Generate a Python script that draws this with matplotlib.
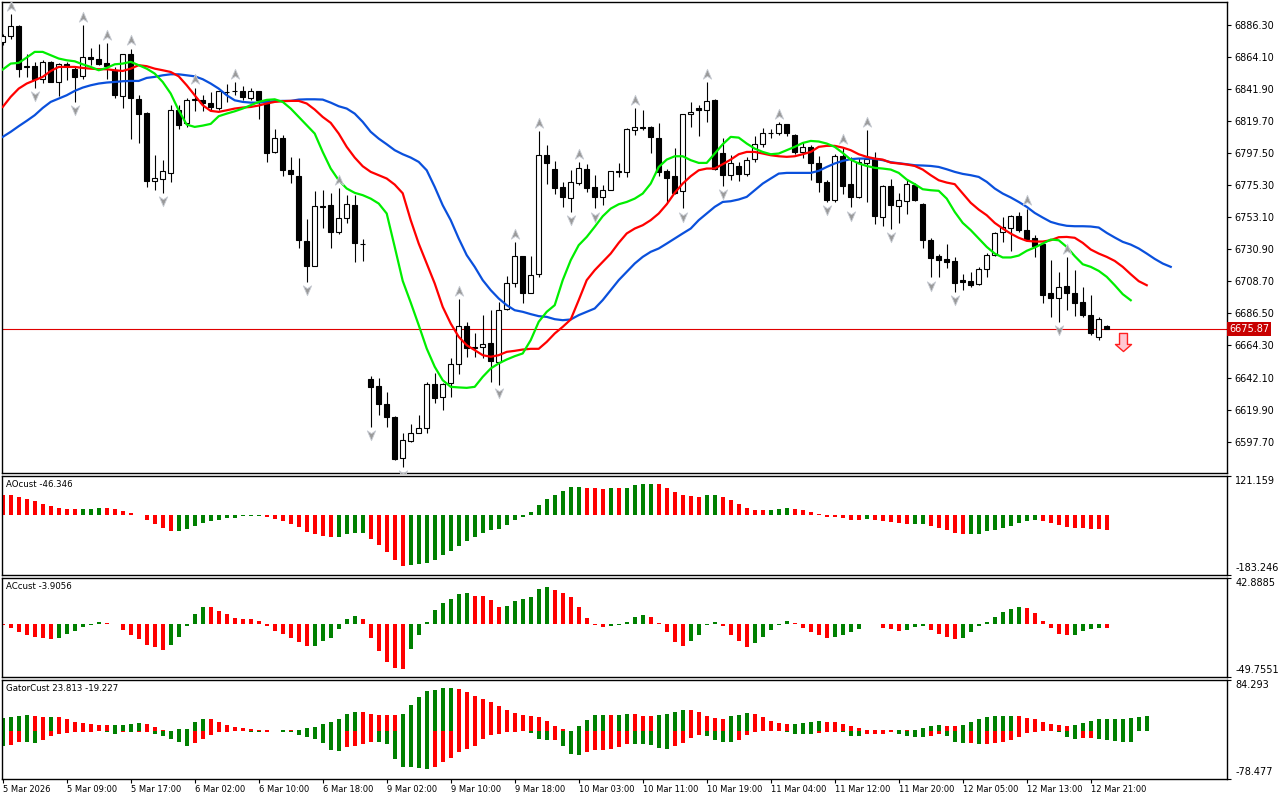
import matplotlib
matplotlib.use('Agg')
import matplotlib.pyplot as plt
import matplotlib.transforms as mtransforms
from matplotlib.path import Path
import numpy as np

plt.rcParams['font.family'] = 'DejaVu Sans'

# ---------------------------------------------------------------- price data
# hourly candles, bar 0 = 5 Mar 2026 01:00 ... bar 138 = last (forming) bar
opens = [6874.3, 6878.2, 6885.1, 6856.6, 6857.9, 6848.7, 6860.7, 6846.9, 6859.3, 6855.6,
         6851.0, 6864.2, 6862.8, 6860.0, 6855.2, 6837.2, 6865.6, 6835.1, 6824.8, 6778.4,
         6779.8, 6783.9, 6827.5, 6818.5, 6833.8, 6834.4, 6831.7, 6828.9, 6839.7, 6840.4,
         6840.2, 6835.8, 6840.2, 6833.9, 6798.2, 6807.5, 6786.0, 6781.4, 6736.5, 6719.4,
         6760.7, 6761.4, 6742.5, 6752.2, 6761.4, 6734.6, 6641.1, 6636.2, 6623.6, 6615.0,
         6586.2, 6598.4, 6604.0, 6607.0, 6637.4, 6628.4, 6638.1, 6651.2, 6677.9, 6662.9,
         6663.0, 6665.8, 6652.6, 6689.2, 6707.2, 6726.1, 6700.7, 6713.6, 6796.4, 6786.7,
         6773.6, 6766.0, 6776.8, 6786.7, 6773.6, 6767.1, 6772.2, 6785.3, 6784.4, 6813.7,
         6815.1, 6815.3, 6807.9, 6785.3, 6781.4, 6771.2, 6824.1, 6828.3, 6827.5, 6833.9,
         6797.8, 6782.1, 6788.3, 6782.6, 6793.0, 6804.0, 6811.4, 6811.4, 6817.4, 6810.2,
         6798.2, 6801.7, 6790.2, 6777.5, 6764.8, 6795.2, 6775.9, 6767.1, 6790.6, 6793.0,
         6753.3, 6774.5, 6761.1, 6764.3, 6775.2, 6762.1, 6737.6, 6726.1, 6724.2, 6722.6,
         6709.3, 6708.8, 6706.5, 6716.9, 6726.8, 6742.5, 6745.9, 6753.7, 6744.1, 6739.0,
         6734.4, 6700.3, 6696.9, 6705.4, 6700.3, 6694.1, 6685.3, 6670.3, 6678.1]
highs = [6880.0, 6893.4, 6885.8, 6865.6, 6860.7, 6862.1, 6861.4, 6859.5, 6860.7, 6857.9,
         6885.8, 6870.4, 6873.2, 6873.5, 6856.6, 6865.6, 6869.7, 6837.9, 6825.5, 6796.4,
         6792.5, 6831.0, 6831.0, 6835.8, 6842.7, 6837.9, 6839.7, 6840.2, 6845.5, 6846.6,
         6843.6, 6842.7, 6840.5, 6834.2, 6814.4, 6809.8, 6794.8, 6793.7, 6751.7, 6771.0,
         6771.7, 6770.1, 6772.9, 6768.3, 6768.3, 6737.9, 6643.1, 6641.5, 6632.3, 6615.5,
         6603.9, 6610.0, 6616.2, 6638.8, 6645.4, 6638.1, 6655.4, 6696.4, 6680.3, 6672.7,
         6685.3, 6688.8, 6694.5, 6712.3, 6735.6, 6726.5, 6726.1, 6812.5, 6803.3, 6792.0,
         6777.5, 6786.0, 6790.9, 6789.7, 6782.1, 6775.2, 6785.1, 6790.2, 6814.6, 6828.6,
         6827.0, 6816.0, 6818.5, 6786.7, 6801.0, 6824.2, 6832.4, 6831.0, 6846.6, 6834.6,
         6807.9, 6796.0, 6791.3, 6794.8, 6809.1, 6814.8, 6814.4, 6818.7, 6817.6, 6810.9,
         6805.1, 6802.8, 6795.2, 6778.6, 6796.6, 6801.7, 6794.8, 6793.7, 6813.2, 6798.2,
         6775.2, 6779.8, 6770.1, 6779.8, 6776.4, 6763.0, 6739.0, 6727.5, 6734.2, 6725.2,
         6714.1, 6715.3, 6718.7, 6728.4, 6742.5, 6752.9, 6754.4, 6756.5, 6759.0, 6740.6,
         6734.6, 6723.3, 6715.3, 6725.6, 6716.7, 6704.9, 6699.1, 6683.7, 6678.8]
lows = [6872.0, 6876.0, 6850.1, 6850.1, 6842.7, 6845.9, 6846.5, 6837.2, 6847.8, 6832.8,
        6848.7, 6858.6, 6858.6, 6848.7, 6835.3, 6828.9, 6807.2, 6804.4, 6774.0, 6772.2,
        6770.1, 6777.5, 6814.1, 6815.1, 6826.8, 6826.8, 6827.0, 6827.0, 6832.8, 6837.4,
        6833.9, 6833.9, 6821.3, 6791.3, 6797.5, 6781.4, 6776.4, 6731.4, 6708.3, 6719.0,
        6745.3, 6731.9, 6741.1, 6749.1, 6722.2, 6722.9, 6608.1, 6616.2, 6608.1, 6585.0,
        6580.4, 6597.7, 6604.0, 6603.5, 6624.3, 6619.6, 6628.8, 6644.3, 6656.5, 6656.1,
        6655.4, 6639.2, 6636.9, 6688.8, 6704.5, 6693.8, 6700.3, 6711.8, 6775.7, 6768.8,
        6760.2, 6756.7, 6775.2, 6770.6, 6759.1, 6761.8, 6771.7, 6781.0, 6781.0, 6809.8,
        6813.7, 6797.5, 6781.6, 6763.6, 6768.8, 6759.1, 6815.1, 6809.1, 6818.9, 6785.6,
        6774.7, 6778.7, 6778.2, 6781.4, 6791.3, 6801.7, 6807.5, 6809.8, 6809.1, 6797.1,
        6793.7, 6778.6, 6770.6, 6763.6, 6763.6, 6769.0, 6759.8, 6766.4, 6763.6, 6748.2,
        6746.9, 6745.2, 6749.1, 6755.6, 6764.1, 6731.4, 6711.4, 6711.4, 6717.6, 6701.4,
        6702.6, 6704.9, 6706.0, 6711.8, 6726.1, 6736.0, 6729.8, 6742.6, 6737.2, 6725.2,
        6693.4, 6684.1, 6680.7, 6688.8, 6684.6, 6684.1, 6671.5, 6668.0, 6675.5]
closes = [6878.2, 6885.1, 6855.6, 6857.9, 6848.7, 6860.7, 6846.9, 6859.3, 6857.9, 6850.1,
          6864.2, 6862.5, 6859.1, 6857.9, 6837.6, 6865.6, 6835.8, 6824.5, 6778.4, 6780.5,
          6784.7, 6827.5, 6816.5, 6833.8, 6835.1, 6831.7, 6829.3, 6840.2, 6839.5, 6840.2,
          6836.2, 6840.2, 6833.9, 6797.5, 6807.5, 6785.6, 6782.6, 6737.6, 6719.4, 6760.7,
          6760.4, 6742.5, 6752.2, 6762.1, 6734.9, 6734.5, 6635.7, 6623.6, 6614.6, 6585.5,
          6598.9, 6604.0, 6607.0, 6637.4, 6627.7, 6637.4, 6651.2, 6677.9, 6662.3, 6663.0,
          6665.1, 6653.5, 6688.6, 6707.2, 6726.1, 6700.7, 6713.4, 6796.4, 6790.2, 6772.9,
          6766.7, 6777.5, 6787.4, 6772.9, 6767.1, 6772.2, 6784.7, 6784.4, 6814.4, 6815.3,
          6815.0, 6808.6, 6784.4, 6780.2, 6770.1, 6824.1, 6825.9, 6827.0, 6833.3, 6786.7,
          6782.1, 6790.6, 6782.6, 6792.5, 6804.0, 6811.6, 6811.3, 6817.4, 6811.0, 6798.2,
          6801.3, 6790.2, 6777.5, 6764.8, 6795.7, 6774.7, 6767.1, 6791.3, 6793.4, 6754.0,
          6774.7, 6761.6, 6764.6, 6775.9, 6764.8, 6737.6, 6724.9, 6723.5, 6722.2, 6707.6,
          6708.5, 6706.0, 6716.9, 6726.8, 6741.8, 6746.4, 6753.7, 6744.1, 6738.1, 6733.2,
          6699.3, 6696.9, 6704.5, 6700.3, 6693.8, 6685.3, 6672.7, 6682.4, 6675.87]

# alligator lines (already shifted forward: jaw +8, teeth +5, lips +3 bars)
jaw = [6808.6, 6812.1, 6816.0, 6819.7, 6823.6, 6828.6, 6832.8, 6835.1, 6837.4, 6840.4,
       6842.7, 6844.3, 6845.5, 6846.2, 6846.6, 6847.1, 6847.3, 6847.3, 6849.4, 6850.1,
       6851.2, 6851.9, 6851.9, 6851.2, 6850.5, 6848.5, 6845.5, 6842.0, 6837.4, 6833.9,
       6832.8, 6832.3, 6832.3, 6832.8, 6833.3, 6833.5, 6833.5, 6834.4, 6834.6, 6834.6,
       6834.4, 6832.3, 6829.8, 6828.2, 6824.7, 6819.0, 6812.1, 6807.4, 6803.5, 6799.4,
       6796.6, 6794.3, 6791.3, 6785.5, 6774.0, 6761.3, 6751.0, 6738.3, 6726.8, 6718.7,
       6709.5, 6702.6, 6696.8, 6692.2, 6688.7, 6687.6, 6686.0, 6684.6, 6684.1, 6682.5,
       6681.8, 6682.3, 6685.3, 6687.6, 6689.9, 6695.7, 6702.6, 6709.5, 6715.2, 6721.0,
       6725.6, 6729.1, 6731.4, 6734.8, 6738.3, 6741.8, 6745.2, 6751.0, 6755.6, 6760.2,
       6763.6, 6764.1, 6765.3, 6767.1, 6771.7, 6776.3, 6779.8, 6783.2, 6783.7, 6783.7,
       6783.7, 6783.7, 6785.1, 6787.8, 6790.2, 6792.0, 6793.2, 6793.6, 6793.6, 6793.4,
       6792.5, 6791.1, 6790.4, 6789.7, 6789.0, 6788.8, 6788.5, 6787.8, 6786.2, 6784.4,
       6783.0, 6782.1, 6780.9, 6777.5, 6772.9, 6769.4, 6766.7, 6763.6, 6760.2, 6756.0,
       6752.8, 6749.8, 6748.2, 6747.1, 6746.8, 6746.8, 6746.6, 6745.9, 6742.2, 6739.0,
       6736.0, 6734.1, 6731.4, 6727.9, 6724.2, 6721.0, 6718.7]
teeth = [6829.3, 6836.3, 6842.0, 6845.5, 6847.8, 6850.1, 6854.2, 6857.0, 6857.0, 6857.0,
         6856.3, 6855.8, 6855.4, 6855.4, 6854.7, 6854.2, 6855.8, 6858.2, 6857.5, 6855.8,
         6854.7, 6853.5, 6850.5, 6844.3, 6837.4, 6830.5, 6826.6, 6825.9, 6827.0, 6828.2,
         6828.9, 6829.3, 6830.3, 6831.7, 6832.8, 6833.3, 6833.5, 6833.5, 6831.7, 6827.5,
         6822.4, 6818.3, 6810.9, 6801.7, 6794.3, 6788.3, 6784.4, 6782.1, 6779.8, 6775.6,
         6769.6, 6751.0, 6734.8, 6721.0, 6707.2, 6691.0, 6679.5, 6670.3, 6664.5, 6661.1,
         6657.6, 6656.5, 6657.6, 6659.9, 6660.6, 6661.5, 6662.0, 6662.0, 6666.8, 6672.6,
         6677.2, 6682.3, 6695.7, 6709.5, 6716.4, 6722.2, 6727.9, 6735.3, 6741.8, 6745.2,
         6747.5, 6751.0, 6755.6, 6762.0, 6769.9, 6776.3, 6781.4, 6785.5, 6786.7, 6786.7,
         6789.7, 6792.9, 6796.6, 6798.2, 6798.2, 6797.1, 6795.9, 6795.2, 6794.8, 6795.2,
         6796.6, 6798.2, 6801.7, 6802.4, 6802.4, 6801.2, 6799.4, 6796.6, 6794.8, 6793.6,
         6792.9, 6790.8, 6790.2, 6789.5, 6788.5, 6786.0, 6782.1, 6778.6, 6777.0, 6775.9,
         6769.4, 6763.0, 6758.3, 6754.4, 6749.1, 6745.2, 6741.7, 6738.8, 6736.7, 6736.2,
         6736.2, 6737.1, 6739.2, 6739.4, 6738.8, 6735.3, 6730.7, 6727.9, 6725.6, 6722.8,
         6718.7, 6713.6, 6708.8, 6706.0]
lips = [6855.2, 6859.3, 6859.8, 6863.5, 6867.4, 6867.4, 6865.1, 6862.8, 6861.6, 6860.9,
        6858.8, 6857.0, 6854.7, 6856.3, 6858.8, 6859.3, 6860.5, 6858.2, 6855.8, 6852.4,
        6846.6, 6838.6, 6827.0, 6817.1, 6815.5, 6816.4, 6817.6, 6822.9, 6824.7, 6826.3,
        6828.2, 6830.5, 6832.8, 6834.2, 6834.6, 6832.8, 6828.2, 6822.4, 6816.7, 6810.9,
        6798.2, 6786.7, 6778.6, 6772.9, 6769.9, 6768.3, 6765.9, 6762.5, 6755.6, 6732.5,
        6709.0, 6694.0, 6678.4, 6662.2, 6649.6, 6640.3, 6635.7, 6635.3, 6635.0, 6635.7,
        6642.6, 6648.4, 6651.9, 6654.6, 6656.9, 6658.8, 6668.0, 6680.7, 6687.6, 6692.2,
        6709.5, 6723.3, 6733.7, 6739.4, 6746.4, 6753.7, 6759.0, 6762.0, 6763.6, 6765.9,
        6769.4, 6776.3, 6787.8, 6792.9, 6795.2, 6795.2, 6792.5, 6790.6, 6790.6, 6797.1,
        6803.5, 6808.6, 6808.1, 6804.0, 6800.5, 6798.2, 6796.6, 6797.1, 6799.4, 6801.7,
        6804.4, 6805.8, 6805.4, 6804.0, 6801.7, 6797.5, 6792.9, 6790.2, 6788.5, 6787.2,
        6786.7, 6786.0, 6783.7, 6779.1, 6775.9, 6772.4, 6771.7, 6771.3, 6765.9, 6756.7,
        6749.1, 6744.1, 6738.3, 6732.5, 6727.9, 6725.2, 6725.2, 6726.5, 6729.8, 6732.1,
        6734.8, 6737.6, 6737.1, 6732.5, 6726.1, 6720.5, 6718.7, 6715.9, 6711.8, 6706.0,
        6699.8, 6695.6]

up_fractals = [1, 10, 13, 16, 24, 29, 42, 57, 64, 67, 72, 79, 88, 97, 105, 108, 128, 133]
down_fractals = [4, 9, 20, 38, 46, 50, 62, 71, 74, 85, 90, 103, 106, 111, 116, 119, 132]

sell_signal_bar = 140
sell_signal_price = 6667.0

price_ticks = [6886.30, 6864.10, 6841.90, 6819.70, 6797.50, 6775.30, 6753.10,
               6730.90, 6708.70, 6686.50, 6664.30, 6642.10, 6619.90, 6597.70]
price_range = (6576.1, 6901.7)

# ---------------------------------------------------------------- oscillators
ao = [61.0, 60.5, 54.8, 48.7, 42.6, 33.5, 27.4, 21.3, 18.3, 17.8,
      18.2, 18.6, 21.0, 20.5, 18.0, 12.0, 6.0, 0.5, -14.2, -26.4,
      -38.6, -47.7, -47.5, -41.6, -32.5, -23.4, -17.3, -14.2, -8.1, -7.9,
      -4.1, -3.0, -2.0, -5.1, -11.2, -17.3, -26.4, -35.5, -50.8, -57.9,
      -63.0, -66.0, -65.8, -57.9, -53.8, -53.6, -71.9, -90.2, -111.6, -135.9,
      -154.2, -154.0, -151.0, -146.0, -137.0, -122.0, -110.0, -94.4, -79.2, -67.0,
      -54.8, -45.7, -42.6, -30.5, -15.2, -6.1, 9.1, 30.5, 48.7, 60.9,
      73.0, 85.3, 85.6, 82.2, 82.0, 79.2, 82.2, 82.0, 82.3, 91.4,
      94.4, 94.6, 94.2, 82.2, 70.0, 60.9, 57.9, 54.8, 60.9, 61.1,
      54.8, 45.7, 33.5, 21.3, 15.2, 15.0, 15.3, 18.3, 21.3, 18.3,
      15.2, 9.1, 3.0, -5.5, -5.8, -10.2, -14.2, -14.4, -12.2, -14.2,
      -17.3, -20.3, -23.4, -26.4, -26.2, -26.0, -32.5, -38.6, -44.7, -53.8,
      -56.8, -56.6, -56.4, -47.7, -44.7, -38.6, -32.5, -23.4, -17.3, -14.2,
      -17.3, -23.4, -29.4, -35.5, -38.6, -38.8, -41.6, -41.8, -46.346]
ac = [-1.5, -3.7, -7.4, -10.2, -12.1, -13.9, -14.8, -13.0, -9.3, -6.5,
      -2.8, -1.5, 1.9, 0.9, -0.2, -5.6, -10.2, -14.8, -19.5, -22.2,
      -25.0, -20.4, -12.1, -1.9, 9.3, 15.8, 15.6, 12.1, 9.3, 5.6,
      4.6, 4.5, 2.8, -1.9, -6.5, -9.3, -13.0, -17.6, -21.3, -21.1,
      -16.7, -13.0, -4.6, 4.6, 7.4, 4.6, -13.0, -26.0, -36.1, -41.7,
      -41.9, -24.1, -10.2, 1.9, 13.0, 19.5, 23.2, 27.8, 28.7, 26.0,
      25.9, 22.2, 15.8, 16.7, 21.3, 23.2, 25.0, 32.4, 34.3, 31.5,
      28.7, 25.0, 15.8, 5.6, -0.9, -2.8, -1.9, -0.9, 1.9, 6.5,
      8.3, 6.5, 0.9, -8.3, -17.6, -21.3, -16.7, -10.2, -0.9, 1.9,
      -1.9, -10.2, -16.7, -22.2, -18.5, -12.1, -5.6, -0.9, 2.8, 0.9,
      -3.7, -7.4, -10.2, -13.0, -12.8, -10.2, -8.3, -4.6, -0.6, -0.7,
      -3.7, -4.6, -6.5, -6.3, -2.8, -2.6, -5.6, -9.3, -12.1, -14.8,
      -13.0, -7.4, -1.9, 1.9, 6.5, 11.1, 13.9, 15.8, 14.8, 10.2,
      2.8, -3.7, -9.3, -11.1, -10.2, -6.5, -4.6, -3.7, -3.9056]
gator_up = [21.2, 23.3, 25.0, 26.6, 25.0, 23.3, 23.5, 23.2, 20.1, 15.2,
            13.6, 12.0, 10.3, 10.2, 10.4, 10.6, 10.9, 12.5, 10.9, 6.5,
            2.2, 0.5, 3.8, 3.9, 15.2, 20.1, 20.0, 15.2, 10.3, 7.1,
            5.4, 3.8, 2.2, 1.6, 0.5, 2.2, 2.0, 2.1, 5.4, 7.1,
            12.0, 15.2, 20.1, 27.1, 31.5, 31.4, 28.2, 26.6, 26.5, 26.4,
            28.2, 42.9, 55.9, 65.7, 67.3, 70.6, 70.8, 69.0, 64.1, 57.6,
            52.7, 47.8, 41.3, 34.8, 29.9, 26.6, 25.0, 23.3, 16.8, 8.7,
            3.8, 0.5, 8.7, 18.5, 26.6, 26.7, 26.6, 26.8, 28.2, 28.1,
            25.0, 24.9, 26.6, 28.2, 31.5, 34.8, 34.7, 31.5, 25.0, 21.7,
            20.1, 25.0, 26.6, 29.9, 28.2, 23.3, 16.8, 13.6, 12.0, 12.1,
            13.6, 15.2, 16.8, 15.2, 15.1, 11.9, 8.7, 5.4, 2.2, 1.6,
            1.5, 1.4, 2.2, 2.1, 2.2, 5.4, 8.7, 10.3, 8.7, 8.6,
            10.3, 15.2, 20.1, 23.3, 25.0, 25.1, 25.2, 25.0, 21.7, 20.1,
            15.2, 12.0, 10.3, 8.7, 10.3, 13.6, 16.8, 20.1, 20.2, 20.3,
            20.4, 21.7, 23.3, 25.0]
gator_down = [24.4, 23.3, 18.5, 18.7, 18.9, 15.2, 8.7, 5.4, 2.7, 2.2,
              1.6, 1.1, 0.5, 1.6, 4.3, 1.6, 1.8, 1.6, 1.5, 4.3,
              8.7, 13.6, 18.5, 25.0, 20.1, 13.6, 7.1, 2.2, 1.1, 0.6,
              0.5, 1.6, 2.2, 2.1, 0.6, 1.6, 2.2, 7.1, 10.3, 13.6,
              20.1, 30.9, 32.6, 25.5, 23.9, 21.7, 18.5, 18.6, 21.7, 45.1,
              59.2, 59.3, 60.8, 62.4, 59.2, 51.1, 44.5, 34.8, 29.9, 25.0,
              13.6, 7.1, 5.4, 2.2, 1.6, 0.6, 3.8, 13.6, 15.2, 15.0,
              25.0, 38.0, 39.6, 34.8, 31.5, 31.4, 29.9, 26.6, 21.7, 21.8,
              21.9, 23.3, 28.2, 29.9, 25.0, 20.1, 12.0, 7.1, 8.7, 15.2,
              18.5, 18.6, 15.2, 7.1, 2.2, 0.3, 0.2, 0.5, 2.2, 5.4,
              5.5, 5.6, 3.8, 1.6, 1.5, 2.2, 7.6, 7.7, 5.4, 5.3,
              5.2, 2.2, 4.3, 8.7, 10.3, 10.4, 8.7, 5.4, 8.7, 17.9,
              20.1, 20.0, 21.7, 21.6, 20.1, 18.5, 15.2, 10.3, 3.8, 2.2,
              0.4, 0.6, 1.6, 10.3, 13.6, 12.0, 11.9, 13.6, 15.2, 16.8,
              18.5, 18.6]
gator_label_values = (23.813, -19.227)

ao_range = (-183.246, 121.159)
ac_range = (-49.7551, 42.8885)
gator_range = (-78.477, 84.293)

time_label_bars = list(range(0, 137, 8))
time_labels = ['5 Mar 2026', '5 Mar 09:00', '5 Mar 17:00', '6 Mar 02:00', '6 Mar 10:00',
               '6 Mar 18:00', '9 Mar 02:00', '9 Mar 10:00', '9 Mar 18:00', '10 Mar 03:00',
               '10 Mar 11:00', '10 Mar 19:00', '11 Mar 04:00', '11 Mar 12:00', '11 Mar 20:00',
               '12 Mar 05:00', '12 Mar 13:00', '12 Mar 21:00']

# ---------------------------------------------------------------- styling
GREEN = '#008000'
RED = '#FF0000'
FS = 7
FS_SMALL = 6.2


def trend_colors(vals, first):
    """MT5 style: green when the bar grew vs the previous one, red when it shrank."""
    cols = [first]
    for prev, cur in zip(vals[:-1], vals[1:]):
        if cur > prev:
            cols.append(GREEN)
        elif cur < prev:
            cols.append(RED)
        else:
            cols.append(cols[-1])
    return cols


W, H = 1280.0, 800.0
fig = plt.figure(figsize=(12.8, 8), dpi=100)


def panel(top, bottom):
    a = fig.add_axes([2.3 / W, 1 - bottom / H, 1225.0 / W, (bottom - top) / H])
    a.set_xlim(-0.05, 153.07)
    for s in a.spines.values():
        s.set_linewidth(1.0)
        s.set_color('black')
    a.tick_params(axis='x', bottom=False, labelbottom=False)
    a.yaxis.tick_right()
    a.tick_params(axis='y', direction='out', length=3, width=0.8, pad=2, labelsize=FS)
    return a


ax = panel(2.3, 473.0)
ax_ao = panel(475.5, 575.0)
ax_ac = panel(577.5, 677.0)
ax_gt = panel(679.5, 779.0)

# ---- main chart
x = np.arange(len(closes))
o = np.array(opens)
c = np.array(closes)
hi = np.array(highs)
lo = np.array(lows)
ax.vlines(x, lo, hi, color='black', linewidth=0.8, zorder=3)
bull = c >= o
ax.bar(x, np.abs(c - o), bottom=np.minimum(o, c), width=0.62,
       color=np.where(bull, 'white', 'black'), edgecolor='black', linewidth=0.8, zorder=4)

ax.plot(np.arange(len(jaw)), jaw, color='#0A50DC', linewidth=1.6, zorder=5)
ax.plot(np.arange(len(teeth)), teeth, color='#FF0000', linewidth=1.6, zorder=5)
ax.plot(np.arange(len(lips)), lips, color='#00EE00', linewidth=1.6, zorder=5)

up_marker = Path([(0, 1), (0.8, -0.9), (0, -0.35), (-0.8, -0.9), (0, 1)],
                 [Path.MOVETO, Path.LINETO, Path.LINETO, Path.LINETO, Path.CLOSEPOLY])
down_marker = Path([(0, -1), (0.8, 0.9), (0, 0.35), (-0.8, 0.9), (0, -1)],
                   [Path.MOVETO, Path.LINETO, Path.LINETO, Path.LINETO, Path.CLOSEPOLY])
ax.plot(up_fractals, hi[up_fractals] + 5.6, linestyle='none', marker=up_marker,
        markersize=7.5, markerfacecolor='#9A9A9A', markeredgecolor='#C8CCD4',
        markeredgewidth=0.6, zorder=6)
ax.plot(down_fractals, lo[down_fractals] - 5.6, linestyle='none', marker=down_marker,
        markersize=7.5, markerfacecolor='#9A9A9A', markeredgecolor='#C8CCD4',
        markeredgewidth=0.6, zorder=6)

sell_marker = Path([(-0.44, 1), (0.44, 1), (0.44, -0.22), (0.89, -0.22), (0, -1),
                    (-0.89, -0.22), (-0.44, -0.22), (-0.44, 1)],
                   [Path.MOVETO] + [Path.LINETO] * 6 + [Path.CLOSEPOLY])
ax.plot([sell_signal_bar], [sell_signal_price], linestyle='none', marker=sell_marker,
        markersize=13, markerfacecolor='#FFC8D2', markeredgecolor='#FF2020',
        markeredgewidth=1.0, zorder=6)

last_price = closes[-1]
ax.axhline(last_price, color='#E00000', linewidth=0.8, zorder=2)

ax.set_ylim(*price_range)
ax.set_yticks(price_ticks)
ax.set_yticklabels([f'{p:.2f}' for p in price_ticks])
trans = mtransforms.blended_transform_factory(ax.transAxes, ax.transData)
ax.text(1.0015, last_price, f'{last_price:.2f}', transform=trans, ha='left', va='center',
        fontsize=FS, color='white', clip_on=False, zorder=10,
        bbox=dict(boxstyle='square,pad=0.18', facecolor='#C80000', edgecolor='none'))


def scale_texts(a, rng):
    lo_v, hi_v = rng
    a.set_ylim(lo_v, hi_v)
    a.set_yticks([lo_v, hi_v])
    a.set_yticklabels(['', ''])
    a.text(1.0065, 0.99, f'{hi_v:g}', transform=a.transAxes, ha='left', va='top',
           fontsize=FS, clip_on=False)
    a.text(1.0065, 0.02, f'{lo_v:g}', transform=a.transAxes, ha='left', va='bottom',
           fontsize=FS, clip_on=False)


# ---- AO
ax_ao.bar(np.arange(len(ao)), ao, width=0.5, color=trend_colors(ao, RED), linewidth=0)
scale_texts(ax_ao, ao_range)
ax_ao.text(0.003, 0.95, f'AOcust {ao[-1]:.3f}', transform=ax_ao.transAxes,
           ha='left', va='top', fontsize=FS_SMALL)

# ---- AC
ax_ac.bar(np.arange(len(ac)), ac, width=0.5, color=trend_colors(ac, RED), linewidth=0)
scale_texts(ax_ac, ac_range)
ax_ac.text(0.003, 0.95, f'ACcust {ac[-1]:.4f}', transform=ax_ac.transAxes,
           ha='left', va='top', fontsize=FS_SMALL)

# ---- Gator
ax_gt.bar(np.arange(len(gator_up)), gator_up, width=0.5,
          color=trend_colors(gator_up, GREEN), linewidth=0)
ax_gt.bar(np.arange(len(gator_down)), -np.array(gator_down), width=0.5,
          color=trend_colors(gator_down, GREEN), linewidth=0)
scale_texts(ax_gt, gator_range)
ax_gt.text(0.003, 0.95, f'GatorCust {gator_label_values[0]:.3f} {gator_label_values[1]:.3f}',
           transform=ax_gt.transAxes, ha='left', va='top', fontsize=FS_SMALL)

ax_gt.set_xticks(time_label_bars)
ax_gt.set_xticklabels(time_labels, ha='left', fontsize=6)
ax_gt.tick_params(axis='x', bottom=True, labelbottom=True, direction='out',
                  length=3, width=0.8, pad=1.5)

fig.savefig('out.png', dpi=100, facecolor='white')
